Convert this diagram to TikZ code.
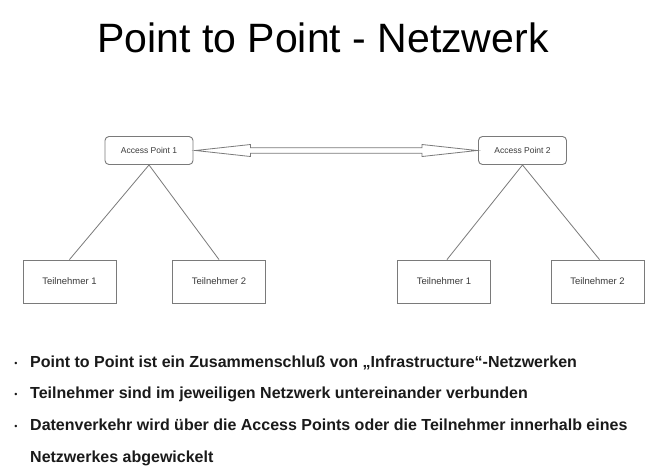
\documentclass[tikz,border=0pt]{standalone}
\usepackage{fontspec}
\setmainfont{Liberation Sans}
\usetikzlibrary{calc}
\definecolor{boxline}{HTML}{7A7A7A}
\definecolor{boxtext}{HTML}{3A3A3A}
\definecolor{listtext}{HTML}{1A1A1A}
\tikzset{
  apbox/.style={draw=boxline, line width=0.9pt, rounded corners=4pt, minimum width=88pt, minimum height=28pt, inner sep=0pt, font=\fontsize{8.5}{10}\selectfont, text=boxtext},
  tnbox/.style={draw=boxline, line width=0.9pt, minimum width=93pt, minimum height=43pt, inner sep=0pt, font=\fontsize{9.5}{11}\selectfont, text=boxtext},
  link/.style={draw=boxline, line width=0.8pt},
  bullettext/.style={anchor=base west, inner sep=0pt, font=\bfseries\fontsize{16}{18}\selectfont, text=listtext},
  bulletmark/.style={anchor=base, inner sep=0pt, font=\fontsize{9}{10}\selectfont, text=listtext},
}
\begin{document}
\begin{tikzpicture}[x=1pt,y=-1pt]
\useasboundingbox (0,0) rectangle (657,467);
\fill[white] (0,0) rectangle (657,467);

% title
\node[anchor=base, inner sep=0pt, font=\fontsize{41}{48}\selectfont] (title) at (323,52) {Point to Point - Netzwerk};

% access points
\node[apbox] (ap1) at (149,150.5) {Access Point 1};
\node[apbox] (ap2) at (522.5,150.5) {Access Point 2};

% stations
\node[tnbox] (t1l) at (69.5,281.5) {Teilnehmer 1};
\node[tnbox] (t2l) at (219,281.5) {Teilnehmer 2};
\node[tnbox] (t1r) at (444,281.5) {Teilnehmer 1};
\node[tnbox] (t2r) at (597.5,281.5) {Teilnehmer 2};

% links from access points to stations
\draw[link] (ap1.south) -- (t1l.north);
\draw[link] (ap1.south) -- (t2l.north);
\draw[link] (ap2.south) -- ([xshift=3pt]t1r.north);
\draw[link] (ap2.south) -- ([xshift=2pt]t2r.north);

% hollow double arrow between the access points
\coordinate (la) at ($(ap1.east)+(2,0)$);
\coordinate (ra) at ($(ap2.west)+(-1,0)$);
\draw[boxline, line width=0.8pt, fill=white, line join=miter]
  (la) -- ($(la)+(55,-6)$) -- ($(la)+(55,-2.7)$)
  -- ($(ra)+(-55,-2.7)$) -- ($(ra)+(-55,-6)$) -- (ra)
  -- ($(ra)+(-55,6)$) -- ($(ra)+(-55,2.7)$)
  -- ($(la)+(55,2.7)$) -- ($(la)+(55,6)$) -- cycle;

% bullet list
\node[bulletmark] (b1) at (16,366) {\textbullet};
\node[bullettext] (l1) at (30,367) {Point to Point ist ein Zusammenschluß von „Infrastructure“-Netzwerken};
\node[bulletmark] (b2) at (16,397) {\textbullet};
\node[bullettext] (l2) at (30,398) {Teilnehmer sind im jeweiligen Netzwerk untereinander verbunden};
\node[bulletmark] (b3) at (16,429) {\textbullet};
\node[bullettext] (l3) at (30,430) {Datenverkehr wird über die Access Points oder die Teilnehmer innerhalb eines};
\node[bullettext] (l4) at (30,462) {Netzwerkes abgewickelt};
\end{tikzpicture}
\end{document}
